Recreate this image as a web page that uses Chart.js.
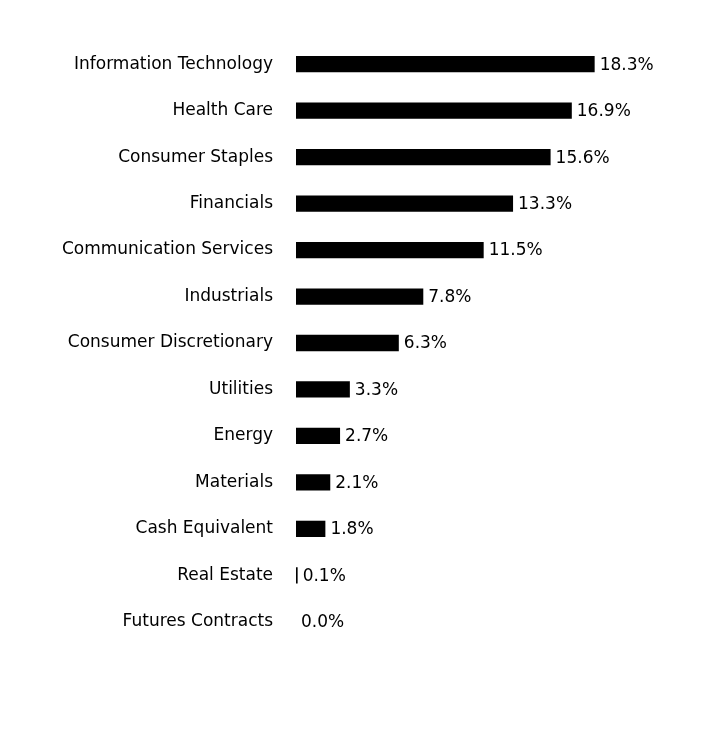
<!DOCTYPE html>
<html>
<head>
<script src="https://cdn.jsdelivr.net/npm/chart.js@4"></script>
<style>
  body { margin: 0; background: #fff; }
  #wrap { width: 708px; height: 732px; }
</style>
</head>
<body>
<div id="wrap"><canvas id="c"></canvas></div>
<script>
const sectors = ['Information Technology', 'Health Care', 'Consumer Staples', 'Financials',
  'Communication Services', 'Industrials', 'Consumer Discretionary', 'Utilities', 'Energy',
  'Materials', 'Cash Equivalent', 'Real Estate', 'Futures Contracts'];
const weights = [18.3, 16.9, 15.6, 13.3, 11.5, 7.8, 6.3, 3.3, 2.7, 2.1, 1.8, 0.1, 0.0];

const FONT = 'DejaVu Sans';

// value labels at the end of each bar
const valueLabels = {
  id: 'valueLabels',
  afterDatasetsDraw(chart) {
    const ctx = chart.ctx;
    const meta = chart.getDatasetMeta(0);
    ctx.save();
    ctx.font = '17px "' + FONT + '"';
    ctx.fillStyle = '#000';
    ctx.textBaseline = 'middle';
    ctx.textAlign = 'left';
    meta.data.forEach((bar, i) => {
      ctx.fillText(weights[i].toFixed(1) + '%', bar.x + 5, bar.y + 1);
    });
    ctx.restore();
  }
};

new Chart(document.getElementById('c'), {
  type: 'bar',
  data: {
    labels: sectors,
    datasets: [{
      data: weights,
      backgroundColor: '#000',
      barPercentage: 0.35,
      categoryPercentage: 1
    }]
  },
  options: {
    indexAxis: 'y',
    responsive: true,
    maintainAspectRatio: false,
    animation: false,
    layout: { padding: { top: 41, bottom: 87, right: 4 } },
    plugins: { legend: { display: false }, tooltip: { enabled: false } },
    scales: {
      x: { display: false, min: 0, max: 25 },
      y: {
        grid: { display: false, drawTicks: false },
        border: { display: false },
        afterFit(scale) { scale.width = 296; },
        ticks: { color: '#000', padding: 23, font: { family: FONT, size: 17 } }
      }
    }
  },
  plugins: [valueLabels]
});
</script>
</body>
</html>
